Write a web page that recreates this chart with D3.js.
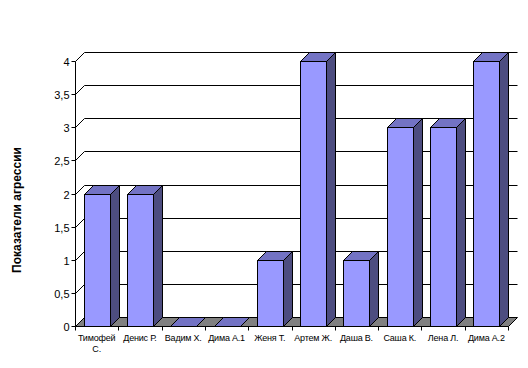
<!DOCTYPE html>
<html lang="ru">
    <head>
        <meta charset="utf-8">
        <title>Показатели агрессии</title>
        <script src="https://d3js.org/d3.v7.min.js"></script>
        <style>
            body { margin: 0; background: #fff; }
            text { font-family: "Liberation Sans", Arial, sans-serif; }
        </style>
    </head>
    <body>
        <script type="text/javascript">

            //chart data
            var names = ["Тимофей С.", "Денис Р.", "Вадим Х.", "Дима А.1", "Женя Т.",
                         "Артем Ж.", "Даша В.", "Саша К.", "Лена Л.", "Дима А.2"];
            var values = [2, 2, 0, 0, 1, 4, 1, 3, 3, 4];
            var yTicks = [0, 0.5, 1, 1.5, 2, 2.5, 3, 3.5, 4];
            var yTitle = "Показатели агрессии";

            var width = 528, height = 368;
            //depth of the 3d effect
            var dx = 9, dy = 9;

            var svg = d3.select("body")
                .append("svg")
                .attr("width", width)
                .attr("height", height);

            //scales (front plane)
            var yScale = d3.scaleLinear()
                .domain([0, 4])
                .range([326, 61]);

            var xCat = d3.scaleBand()
                .domain(names)
                .range([75, 508])
                .padding(0);

            var xBar = d3.scaleBand()
                .domain(names)
                .range([75, 508])
                .paddingInner(0.4)
                .paddingOuter(0.2);

            //snap to pixel centres so 1px lines stay crisp
            function px(v) { return Math.round(v) + 0.5; }

            var x0 = px(xCat.range()[0]), x1 = px(xCat.range()[1]);
            var y0 = px(yScale(0));

            //gridlines: diagonal on the left wall then flat across the back
            yTicks.filter(function(v) { return v > 0; }).forEach(function(v) {
                var y = px(yScale(v));
                svg.append("path")
                    .attr("d", "M" + x0 + "," + y + "L" + (x0 + dx) + "," + (y - dy) + "L" + (x1 + dx) + "," + (y - dy))
                    .attr("fill", "none")
                    .attr("stroke", "#000")
                    .attr("stroke-width", 1);
            });

            //floor
            svg.append("path")
                .attr("d", "M" + x0 + "," + y0 + "L" + (x0 + dx) + "," + (y0 - dy) +
                           "L" + (x1 + dx) + "," + (y0 - dy) + "L" + x1 + "," + y0 + "Z")
                .attr("fill", "#808080")
                .attr("stroke", "#000")
                .attr("stroke-width", 1);

            //bars
            var bw = xBar.bandwidth();
            var bars = svg.append("g");
            names.forEach(function(n, i) {
                var bx = px(xBar(n));
                var bxr = px(xBar(n) + bw);
                var by = px(yScale(values[i]));
                var g = bars.append("g")
                    .attr("stroke", "#000")
                    .attr("stroke-width", 1);

                //top
                g.append("path")
                    .attr("d", "M" + bx + "," + by + "L" + (bx + dx) + "," + (by - dy) +
                               "L" + (bxr + dx) + "," + (by - dy) + "L" + bxr + "," + by + "Z")
                    .attr("fill", "#7373c4");

                if (values[i] > 0) {
                    //side
                    g.append("path")
                        .attr("d", "M" + bxr + "," + by + "L" + (bxr + dx) + "," + (by - dy) +
                                   "L" + (bxr + dx) + "," + (y0 - dy) + "L" + bxr + "," + y0 + "Z")
                        .attr("fill", "#4d4d80");
                    //front
                    g.append("rect")
                        .attr("x", bx)
                        .attr("y", by)
                        .attr("width", bxr - bx)
                        .attr("height", y0 - by)
                        .attr("fill", "#9999ff");
                }
            });

            //y axis
            var yAxis = svg.append("g");
            yAxis.append("line")
                .attr("x1", x0).attr("x2", x0)
                .attr("y1", px(yScale(4))).attr("y2", y0)
                .attr("stroke", "#000");
            yTicks.forEach(function(v) {
                var y = px(yScale(v));
                yAxis.append("line")
                    .attr("x1", x0 - 4).attr("x2", x0)
                    .attr("y1", y).attr("y2", y)
                    .attr("stroke", "#000");
                yAxis.append("text")
                    .attr("x", x0 - 6)
                    .attr("y", y + 4)
                    .attr("text-anchor", "end")
                    .attr("font-size", "11px")
                    .text(String(v).replace(".", ","));
            });

            //x axis
            var xAxis = svg.append("g");
            xAxis.append("line")
                .attr("x1", x0).attr("x2", x1)
                .attr("y1", y0).attr("y2", y0)
                .attr("stroke", "#000");
            names.concat([null]).forEach(function(n) {
                var tx = n ? px(xCat(n)) : x1;
                xAxis.append("line")
                    .attr("x1", tx).attr("x2", tx)
                    .attr("y1", y0).attr("y2", y0 + 4)
                    .attr("stroke", "#000");
            });
            names.forEach(function(n) {
                var cx = xCat(n) + xCat.bandwidth() / 2;
                var t = xAxis.append("text")
                    .attr("x", cx)
                    .attr("y", 341)
                    .attr("text-anchor", "middle")
                    .attr("font-size", "9px")
                    .attr("letter-spacing", "-0.2px");
                //long label wraps onto two lines
                var parts = n.length > 9 ? n.split(" ") : [n];
                parts.forEach(function(p, k) {
                    t.append("tspan")
                        .attr("x", cx)
                        .attr("dy", k == 0 ? 0 : 11)
                        .text(p);
                });
            });

            //axis title
            svg.append("text")
                .attr("transform", "translate(21,210) rotate(-90)")
                .attr("text-anchor", "middle")
                .attr("font-size", "12px")
                .attr("font-weight", "bold")
                .text(yTitle);

        </script>
    </body>
</html>
